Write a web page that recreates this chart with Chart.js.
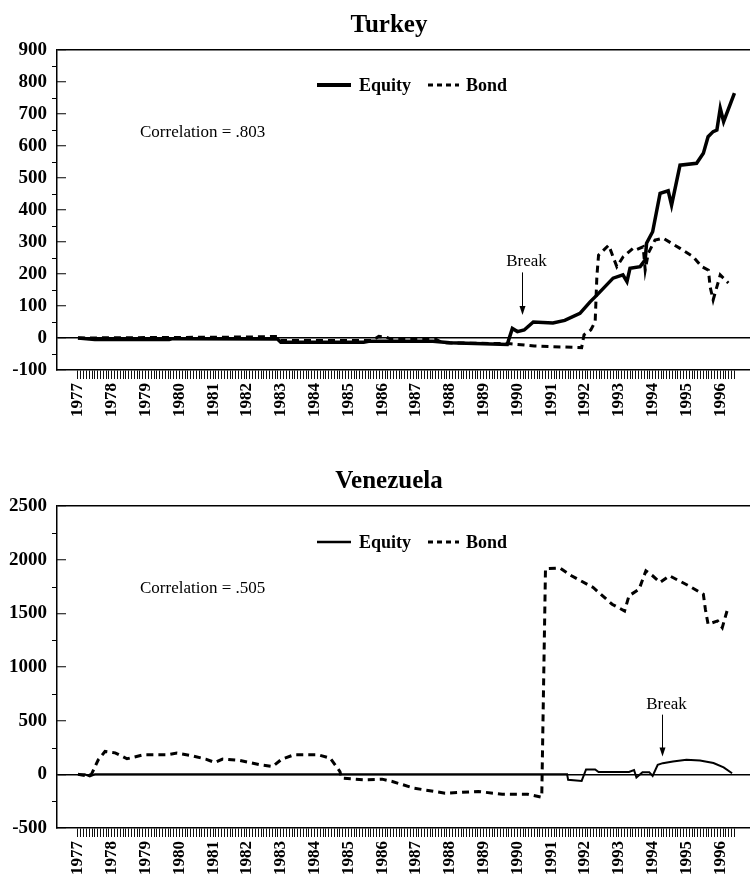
<!DOCTYPE html>
<html>
<head>
<meta charset="utf-8">
<script src="https://cdn.jsdelivr.net/npm/chart.js@4.4.0/dist/chart.umd.min.js"></script>
<style>
  html, body { margin: 0; padding: 0; background: #fff; }
  canvas { display: block; }
</style>
</head>
<body>
<canvas id="turkey" width="750" height="440"></canvas>
<canvas id="venezuela" width="750" height="437"></canvas>
<script>
// x axis: one tick per month, a year label every January
var firstYear = 1977;
var lastMonth = 233; // May 1996
var yearLabels = ['1977', '1978', '1979', '1980', '1981', '1982', '1983', '1984', '1985', '1986',
                  '1987', '1988', '1989', '1990', '1991', '1992', '1993', '1994', '1995', '1996'];

// Turkey (dates in decimal years)
var turkeyEquityDates = [1977.0, 1977.5, 1979.7, 1979.8, 1982.9, 1983.0, 1985.45, 1985.6, 1987.5, 1988.0,
                         1989.7, 1989.85, 1990.0, 1990.2, 1990.47, 1991.05, 1991.4, 1991.85, 1992.15, 1992.35,
                         1992.83, 1993.12, 1993.24, 1993.33, 1993.63, 1993.78, 1993.82, 1994.0, 1994.22, 1994.46,
                         1994.56, 1994.81, 1995.3, 1995.5, 1995.64, 1995.79, 1995.9, 1996.0, 1996.1, 1996.42];
var turkeyEquity = [0, -5, -5, -2, -3, -13, -13, -10, -10, -15,
                    -20, 30, 20, 25, 50, 47, 55, 77, 113, 134,
                    187, 197, 176, 218, 223, 244, 296, 332, 452, 460,
                    415, 540, 546, 577, 629, 645, 650, 718, 676, 765];
var turkeyBondDates = [1977.0, 1982.0, 1982.9, 1983.0, 1985.7, 1985.9, 1986.1, 1986.3, 1987.6, 1987.8,
                       1989.8, 1990.0, 1990.5, 1991.9, 1991.97, 1992.17, 1992.3, 1992.35, 1992.4, 1992.7,
                       1992.94, 1993.13, 1993.42, 1993.5, 1993.72, 1993.78, 1993.87, 1994.07, 1994.31, 1994.81,
                       1995.2, 1995.45, 1995.65, 1995.7, 1995.79, 1996.0, 1996.24];
var turkeyBond = [0, 3, 5, -8, -8, 5, 3, -5, -5, -15,
                  -18, -20, -25, -30, 10, 25, 51, 192, 259, 290,
                  223, 254, 280, 275, 285, 212, 265, 306, 312, 280,
                  254, 223, 212, 160, 119, 197, 172];
var turkeyYTicks = [-100, 0, 100, 200, 300, 400, 500, 600, 700, 800, 900];

// Venezuela
var venezuelaEquityDates = [1977.0, 1977.2, 1977.35, 1977.5, 1991.47, 1991.5, 1991.9, 1992.03, 1992.3, 1992.4,
                            1993.3, 1993.45, 1993.52, 1993.7, 1993.9, 1994.0, 1994.15, 1994.3, 1994.6, 1995.0,
                            1995.4, 1995.8, 1996.1, 1996.35];
var venezuelaEquity = [0, 0, -20, 0, 0, -51, -61, 45, 45, 22,
                       22, 40, -30, 20, 20, -15, 89, 104, 120, 135,
                       128, 105, 65, 10];
var venezuelaBondDates = [1977.0, 1977.25, 1977.4, 1977.6, 1977.8, 1978.1, 1978.45, 1978.94, 1979.65, 1979.93,
                          1980.35, 1980.78, 1981.05, 1981.28, 1981.77, 1982.4, 1982.76, 1983.03, 1983.4, 1984.1,
                          1984.46, 1984.75, 1984.8, 1985.45, 1986.0, 1986.3, 1986.94, 1987.86, 1988.84, 1989.55,
                          1990.3, 1990.72, 1990.83, 1991.26, 1991.6, 1992.24, 1992.8, 1993.17, 1993.3, 1993.6,
                          1993.8, 1994.0, 1994.22, 1994.5, 1995.07, 1995.5, 1995.56, 1995.64, 1995.92, 1996.06,
                          1996.2];
var venezuelaBond = [0, -15, 0, 135, 213, 200, 145, 182, 182, 198,
                     175, 142, 110, 142, 130, 89, 73, 142, 182, 182,
                     151, 26, -36, -51, -45, -67, -129, -176, -160, -185,
                     -185, -213, 1915, 1922, 1850, 1741, 1585, 1522, 1663, 1725,
                     1896, 1850, 1788, 1850, 1756, 1678, 1538, 1398, 1429, 1367,
                     1522];
var venezuelaYTicks = [-500, 0, 500, 1000, 1500, 2000, 2500];

var serif = '"Liberation Serif", "Times New Roman", serif';

function points(dates, values) {
    return dates.map(function (d, i) { return { x: d, y: values[i] }; });
}

function makeChart(id, spec) {
    var yMin = spec.yTicks[0];
    var yMax = spec.yTicks[spec.yTicks.length - 1];
    var half = (spec.yTicks[1] - spec.yTicks[0]) / 2;

    // title, legend, correlation text, break arrow, minor y ticks
    var decor = {
        id: 'decor',
        afterDraw: function (chart) {
            var c = chart.ctx;
            var xs = chart.scales.x, ys = chart.scales.y;
            c.save();
            c.fillStyle = '#000';
            c.strokeStyle = '#000';

            c.font = 'bold 25px ' + serif;
            c.textAlign = 'center';
            c.textBaseline = 'alphabetic';
            c.fillText(spec.title, 389, spec.titleY);

            // legend
            c.setLineDash([]);
            c.lineWidth = spec.equityWidth + 0.5;
            c.beginPath(); c.moveTo(317, spec.legendY); c.lineTo(351, spec.legendY); c.stroke();
            c.lineWidth = 3;
            c.setLineDash([5, 4]);
            c.beginPath(); c.moveTo(428, spec.legendY); c.lineTo(459, spec.legendY); c.stroke();
            c.setLineDash([]);
            c.font = 'bold 18px ' + serif;
            c.textAlign = 'left';
            c.textBaseline = 'middle';
            c.fillText('Equity', 359, spec.legendY + 1);
            c.fillText('Bond', 466, spec.legendY + 1);

            c.font = '17px ' + serif;
            c.textBaseline = 'alphabetic';
            c.fillText(spec.correlation, 140, spec.corrY);

            // break annotation
            var bx = Math.round(xs.getPixelForValue(spec.breakAt[0])) + 0.5;
            var top = ys.getPixelForValue(spec.breakAt[1]);
            var tip = ys.getPixelForValue(spec.breakAt[2]);
            c.textAlign = 'center';
            c.fillText('Break', bx + 4, top - 6);
            c.lineWidth = 1;
            c.beginPath(); c.moveTo(bx, top); c.lineTo(bx, tip - 6); c.stroke();
            c.beginPath(); c.moveTo(bx - 3, tip - 9); c.lineTo(bx + 3, tip - 9); c.lineTo(bx, tip); c.closePath(); c.fill();

            // minor y ticks sit outside the axis
            c.lineWidth = 1;
            ys.ticks.forEach(function (t) {
                if (spec.yTicks.indexOf(t.value) < 0) {
                    var p = Math.round(ys.getPixelForValue(t.value)) + 0.5;
                    c.beginPath(); c.moveTo(52, p); c.lineTo(57, p); c.stroke();
                }
            });
            c.restore();
        }
    };

    return new Chart(document.getElementById(id).getContext('2d'), {
        type: 'line',
        data: {
            datasets: [{
                label: 'Equity',
                data: points(spec.equityDates, spec.equity),
                borderColor: '#000',
                borderWidth: spec.equityWidth,
                pointRadius: 0,
                tension: 0,
                fill: false
            }, {
                label: 'Bond',
                data: points(spec.bondDates, spec.bond),
                borderColor: '#000',
                borderWidth: 3,
                borderDash: [7, 5],
                pointRadius: 0,
                tension: 0,
                fill: false
            }]
        },
        options: {
            responsive: false,
            animation: false,
            devicePixelRatio: 1,
            layout: { padding: { top: spec.padTop, left: 0, right: 0, bottom: 0 } },
            plugins: {
                legend: { display: false },
                tooltip: { enabled: false },
                title: { display: false }
            },
            scales: {
                x: {
                    type: 'linear',
                    min: 1976.38,
                    max: 1996.88,
                    afterBuildTicks: function (scale) {
                        var t = [];
                        for (var m = 0; m <= lastMonth; m++) t.push({ value: firstYear + m / 12 });
                        scale.ticks = t;
                    },
                    afterFit: function (scale) {
                        scale.height = spec.xHeight;
                        scale.paddingLeft = 0;
                        scale.paddingRight = 0;
                    },
                    ticks: {
                        autoSkip: false,
                        minRotation: 90,
                        maxRotation: 90,
                        padding: 4,
                        color: '#000',
                        font: { family: serif, size: 17, weight: 'bold' },
                        callback: function (v) {
                            var m = Math.round((v - firstYear) * 12);
                            return m % 12 === 0 ? yearLabels[m / 12] : '';
                        }
                    },
                    grid: { drawOnChartArea: false, drawTicks: true, tickLength: 9, tickColor: '#111', tickWidth: 1 },
                    border: { display: true, color: '#000', width: 1.5 }
                },
                y: {
                    min: yMin,
                    max: yMax,
                    afterBuildTicks: function (scale) {
                        var t = [];
                        for (var v = yMin; v <= yMax; v += half) t.push({ value: v });
                        scale.ticks = t;
                    },
                    afterFit: function (scale) { scale.width = 57; },
                    ticks: {
                        autoSkip: false,
                        padding: 19,
                        color: '#000',
                        font: { family: serif, size: 19, weight: 'bold' },
                        callback: function (v) { return spec.yTicks.indexOf(v) >= 0 ? String(v) : ''; }
                    },
                    grid: {
                        color: function (ctx) {
                            return ctx.tick && (ctx.tick.value === 0 || ctx.tick.value === yMax) ? '#000' : 'rgba(0,0,0,0)';
                        },
                        lineWidth: 1.5,
                        tickLength: -9,
                        tickWidth: 1,
                        tickColor: function (ctx) {
                            return ctx.tick && spec.yTicks.indexOf(ctx.tick.value) >= 0 ? '#000' : 'rgba(0,0,0,0)';
                        }
                    },
                    border: { display: true, color: '#000', width: 1.5 }
                }
            }
        },
        plugins: [decor]
    });
}

makeChart('turkey', {
    title: 'Turkey', titleY: 32, legendY: 85, corrY: 137, correlation: 'Correlation = .803',
    padTop: 50, xHeight: 70,
    yTicks: turkeyYTicks,
    equityDates: turkeyEquityDates, equity: turkeyEquity, equityWidth: 3.5,
    bondDates: turkeyBondDates, bond: turkeyBond,
    breakAt: [1990.15, 205, 72]
});

makeChart('venezuela', {
    title: 'Venezuela', titleY: 48, legendY: 102, corrY: 153, correlation: 'Correlation = .505',
    padTop: 66, xHeight: 49,
    yTicks: venezuelaYTicks,
    equityDates: venezuelaEquityDates, equity: venezuelaEquity, equityWidth: 2,
    bondDates: venezuelaBondDates, bond: venezuelaBond,
    breakAt: [1994.28, 556, 166]
});
</script>
</body>
</html>
